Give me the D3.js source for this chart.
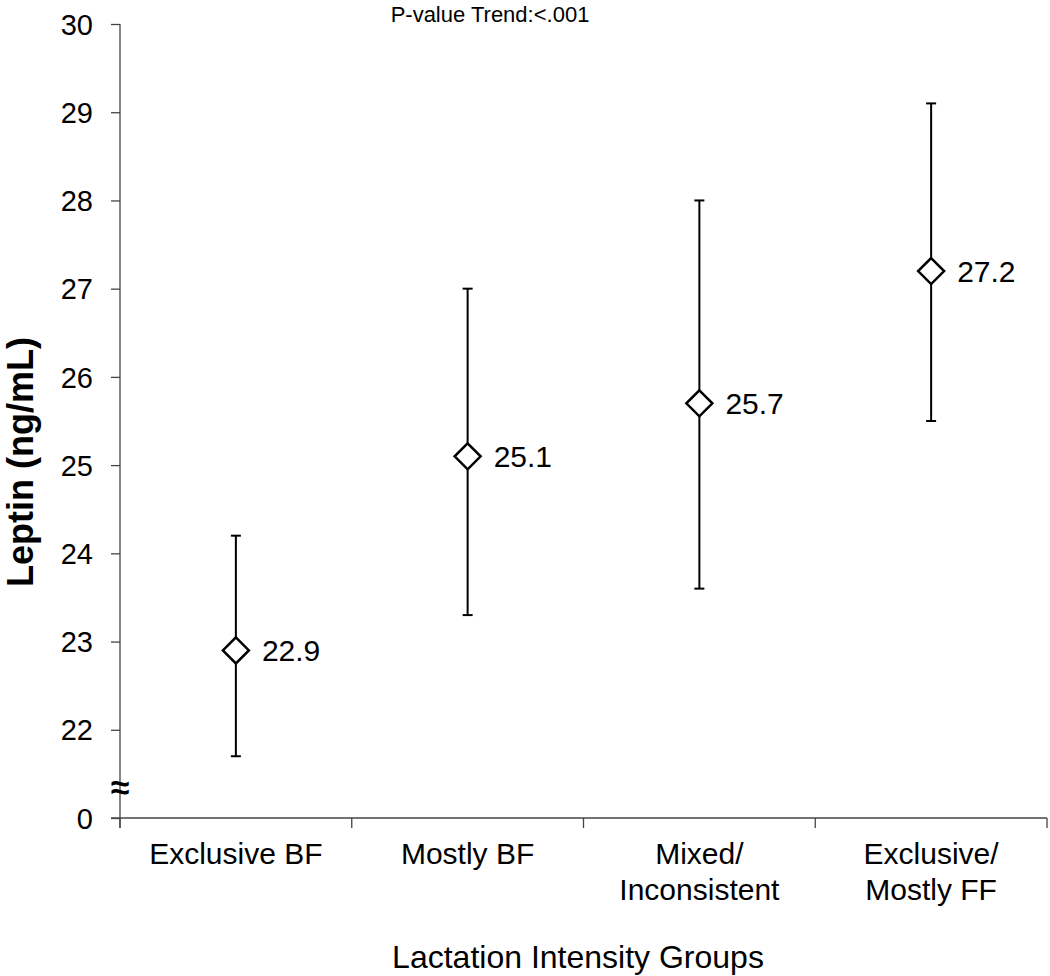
<!DOCTYPE html>
<html><head><meta charset="utf-8">
<script src="https://cdn.jsdelivr.net/npm/d3@7"></script>
<style>body{margin:0;background:#fff}svg{display:block}text{font-family:"Liberation Sans",Arial,sans-serif}</style>
</head><body>
<script>
const categories = [["Exclusive BF"],["Mostly BF"],["Mixed/","Inconsistent"],["Exclusive/","Mostly FF"]];
const means = [22.9, 25.1, 25.7, 27.2];
const lower = [21.7, 23.3, 23.6, 25.5];
const upper = [24.2, 27.0, 28.0, 29.1];
const yTicks = [21,22,23,24,25,26,27,28,29,30];
const yTickLabels = ["0","22","23","24","25","26","27","28","29","30"];

(function(){
const W=1050,H=976;
const svg=d3.select("body").append("svg").attr("width",W).attr("height",H);
const mL=120,mR=1047,mT=24,mB=818;
const x=d3.scaleBand().domain(d3.range(categories.length)).range([mL,mR]);
const y=d3.scaleLinear().domain([21,30]).range([mB,mT]);

// y axis
const yAxis=svg.append("g").attr("transform",`translate(${mL},0)`)
  .call(d3.axisLeft(y).tickValues(yTicks).tickFormat((d,i)=>yTickLabels[i]).tickSize(9).tickSizeOuter(0));
yAxis.select(".domain").remove();
yAxis.selectAll(".tick line").attr("stroke","#444").attr("stroke-width",1.3);
yAxis.selectAll(".tick text").attr("font-size",29).attr("fill","#000").attr("x",-27).attr("dy","0.35em");
svg.append("line").attr("x1",mL).attr("x2",mL).attr("y1",mT).attr("y2",mB+10).attr("stroke","#444").attr("stroke-width",1.3);

// x axis
svg.append("line").attr("x1",mL-9).attr("x2",mR).attr("y1",mB).attr("y2",mB).attr("stroke","#444").attr("stroke-width",1.3);
const xt=d3.range(categories.length+1).map(i=>mL+i*x.step());
svg.selectAll(".xt").data(xt).enter().append("line").attr("x1",d=>d).attr("x2",d=>d).attr("y1",mB).attr("y2",mB+10).attr("stroke","#444").attr("stroke-width",1.3);
const cl=svg.selectAll(".cl").data(categories).enter().append("text")
  .attr("x",(d,i)=>x(i)+x.bandwidth()/2).attr("y",864).attr("text-anchor","middle").attr("font-size",30);
cl.selectAll("tspan").data(d=>d).enter().append("tspan").attr("x",function(){return this.parentNode.getAttribute("x");})
  .attr("dy",(d,i)=>i===0?0:36).text(d=>d);

// break symbol
svg.append("text").attr("x",mL).attr("y",799).attr("text-anchor","middle").attr("font-size",34).attr("font-weight","bold").text("≈");

// error bars
const g=svg.append("g");
means.forEach((m,i)=>{
  const cx=x(i)+x.bandwidth()/2;
  g.append("line").attr("x1",cx).attr("x2",cx).attr("y1",y(upper[i])).attr("y2",y(lower[i])).attr("stroke","#000").attr("stroke-width",2);
  [upper[i],lower[i]].forEach(v=>g.append("line").attr("x1",cx-5).attr("x2",cx+5).attr("y1",y(v)).attr("y2",y(v)).attr("stroke","#000").attr("stroke-width",2));
  const s=13;
  g.append("path").attr("d",`M${cx},${y(m)-s}L${cx+s},${y(m)}L${cx},${y(m)+s}L${cx-s},${y(m)}Z`).attr("fill","#fff").attr("stroke","#000").attr("stroke-width",2.5);
  g.append("text").attr("x",cx+26).attr("y",y(m)).attr("dy","0.35em").attr("font-size",30).text(m.toFixed(1));
});

svg.append("text").attr("x",490).attr("y",22).attr("text-anchor","middle").attr("font-size",22).text("P-value Trend:<.001");
svg.append("text").attr("transform","translate(33,462) rotate(-90)").attr("text-anchor","middle").attr("font-size",36).attr("font-weight","bold").text("Leptin (ng/mL)");
svg.append("text").attr("x",578).attr("y",968).attr("text-anchor","middle").attr("font-size",32).text("Lactation Intensity Groups");
})();
</script>
</body></html>
